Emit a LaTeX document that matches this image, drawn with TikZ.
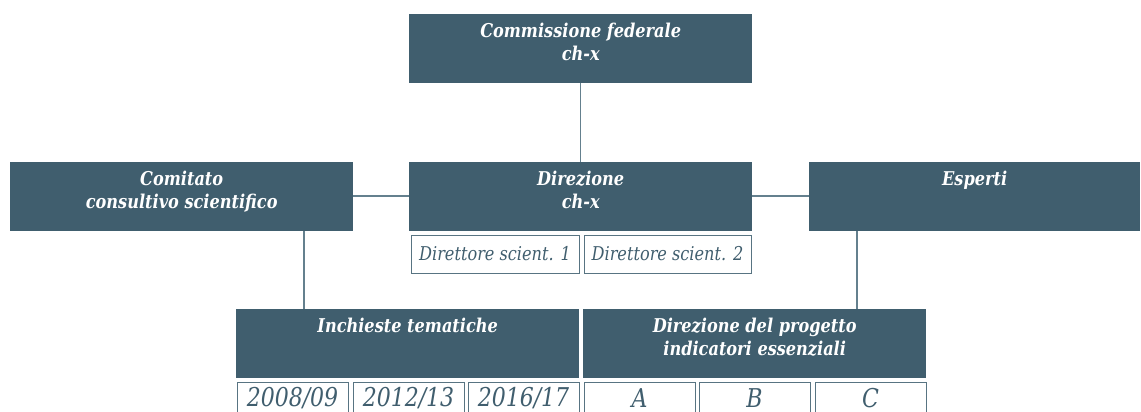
\documentclass[tikz,border=0pt]{standalone}
\usepackage{fontspec}
\setmainfont{DejaVu Serif}[FakeStretch=0.85]
\definecolor{boxfill}{RGB}{64,94,110}
\definecolor{linecol}{RGB}{100,128,142}
\definecolor{subborder}{RGB}{88,116,130}
\begin{document}
\begin{tikzpicture}[x=1pt,y=-1pt,
  bigbox/.style={fill=boxfill, draw=none, inner sep=0pt, minimum width=343pt, minimum height=69pt, anchor=north west},
  headtxt/.style={text=white, font=\fontsize{19}{23.5}\selectfont\bfseries\itshape, align=center, anchor=north, inner sep=0pt},
  subbox/.style={draw=subborder, line width=1pt, fill=white, inner sep=0pt, minimum height=38pt, anchor=north west, text=boxfill, font=\fontsize{19}{20}\selectfont\itshape},
  yearbox/.style={subbox, minimum width=111pt, minimum height=32pt, font=\fontsize{25.9}{27}\selectfont\itshape},
  conn/.style={draw=linecol, line width=1.3pt}
]
\useasboundingbox (0,0) rectangle (1141,412);
\clip (0,0) rectangle (1141,412);

% big boxes
\node[bigbox] (comm) at (409,14) {};
\node[bigbox] (comi) at (10,162) {};
\node[bigbox] (dir) at (409,162) {};
\node[bigbox, minimum width=331pt] (esp) at (809,162) {};
\node[bigbox] (inch) at (236,309) {};
\node[bigbox] (prog) at (583,309) {};

% texts
\node[headtxt] (commt) at ([yshift=-8.5]comm.north) {Commissione federale\\ch-x};
\node[headtxt] (comit) at ([yshift=-8.5]comi.north) {Comitato\\consultivo scientifico};
\node[headtxt] (dirt) at ([yshift=-8.5]dir.north) {Direzione\\ch-x};
\node[headtxt] (espt) at ([yshift=-8.5]esp.north) {Esperti};
\node[headtxt] (incht) at ([yshift=-8.5]inch.north) {Inchieste tematiche};
\node[headtxt] (progt) at ([yshift=-8.5]prog.north) {Direzione del progetto\\indicatori essenziali};

% sub boxes
\node[subbox, minimum width=168pt] (ds1) at (410.5,234.5) {Direttore scient. 1};
\node[subbox, minimum width=167pt] (ds2) at (583.5,234.5) {Direttore scient. 2};

\node[yearbox] (y1) at (236.5,381.5) {2008/09};
\node[yearbox] (y2) at (352.5,381.5) {2012/13};
\node[yearbox] (y3) at (467.5,381.5) {2016/17};
\node[yearbox] (ia) at (583.5,381.5) {A};
\node[yearbox] (ib) at (698.5,381.5) {B};
\node[yearbox] (ic) at (814.5,381.5) {C};

% connectors
\draw[conn] (comm.south) -- (dir.north);
\draw[conn] (comi.east |- 0,196) coordinate (c1) -- (dir.west |- c1);
\draw[conn] (dir.east |- 0,196) coordinate (c2) -- (esp.west |- c2);
\draw[conn] (comi.south -| 304,0) coordinate (c3) -- (inch.north -| c3);
\draw[conn] (esp.south -| 857,0) coordinate (c4) -- (prog.north -| c4);
\end{tikzpicture}
\end{document}
